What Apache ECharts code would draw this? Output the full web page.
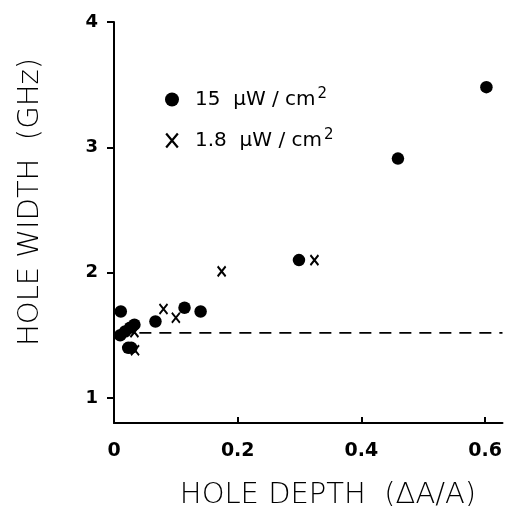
<!DOCTYPE html>
<html><head><meta charset="utf-8">
<script src="https://cdn.jsdelivr.net/npm/echarts@6/dist/echarts.min.js"></script>
<style>html,body{margin:0;padding:0;background:#fff}#c{width:505px;height:506px}</style>
</head><body><div id="c"></div>
<script>
// Data
const highPowerDots = [
  [0.011, 1.69], [0.010, 1.50], [0.018, 1.53], [0.026, 1.56], [0.033, 1.585],
  [0.023, 1.40], [0.028, 1.40], [0.067, 1.61], [0.114, 1.72], [0.140, 1.69],
  [0.299, 2.10], [0.459, 2.91], [0.602, 3.48]
];
const lowPowerX = [
  [0.080, 1.71], [0.100, 1.64], [0.174, 2.01], [0.324, 2.10], [0.033, 1.525], [0.034, 1.38]
];
const baseline = [[0.041, 1.52], [0.628, 1.52]];
const xTicks = [0, 0.2, 0.4, 0.6];
const yTicks = [1, 2, 3, 4];
const seriesNames = ['15', '1.8'];
const xTitle = 'HOLE DEPTH  (ΔA/A)';
const yTitle = 'HOLE WIDTH  (GHz)';

const XPATH = 'path://M0,0L10,12M10,0L0,12';
const FONT = 'DejaVu Sans';

const chart = echarts.init(document.getElementById('c'));
chart.setOption({
  animation: false,
  backgroundColor: '#fff',
  grid: { left: 114, right: 0, top: 22, bottom: 83, containLabel: false },
  xAxis: {
    type: 'value', min: 0, max: 0.628,
    splitLine: { show: false },
    axisLine: { show: true, lineStyle: { color: '#000', width: 2 } },
    axisTick: { show: true, inside: true, length: 6, customValues: xTicks, lineStyle: { color: '#000', width: 2 } },
    axisLabel: { customValues: xTicks, margin: 19, color: '#000', fontFamily: FONT, fontSize: 19, fontWeight: 'bold',
      formatter: v => v === 0 ? '0' : v.toFixed(1) }
  },
  yAxis: {
    type: 'value', min: 0.8, max: 4,
    splitLine: { show: false },
    axisLine: { show: true, lineStyle: { color: '#000', width: 2 } },
    axisTick: { show: true, inside: false, length: 7, customValues: yTicks, lineStyle: { color: '#000', width: 2 } },
    axisLabel: { customValues: yTicks, margin: 16, color: '#000', fontFamily: FONT, fontSize: 18, fontWeight: 'bold',
      formatter: v => String(v) }
  },
  graphic: [
    { type: 'text', x: 328, y: 495, silent: true,
      style: { text: xTitle, align: 'center', verticalAlign: 'middle',
        font: '200 29px "DejaVu Sans"', fill: '#000' } },
    { type: 'text', x: 30, y: 202, rotation: Math.PI / 2, silent: true,
      style: { text: yTitle, align: 'center', verticalAlign: 'middle',
        font: '200 29px "DejaVu Sans"', fill: '#000' } }
  ],
  legend: {
    orient: 'vertical', left: 160, top: 82, itemWidth: 14, itemHeight: 14, itemGap: 16,
    selectedMode: false,
    data: [
      { name: seriesNames[0], icon: 'circle', itemStyle: { color: '#000' } },
      { name: seriesNames[1], icon: XPATH, itemStyle: { color: 'transparent', borderColor: '#000', borderWidth: 2.2 } }
    ],
    formatter: n => '{a|' + n + '  μW / cm}{s|2}',
    textStyle: {
      rich: {
        a: { fontFamily: FONT, fontSize: 20, lineHeight: 24, color: '#000', padding: [0, 0, 0, 11] },
        s: { fontFamily: FONT, fontSize: 15, lineHeight: 14, color: '#000', padding: [0, 0, 10, 2] }
      }
    }
  },
  series: [
    {
      name: seriesNames[0], type: 'scatter', data: highPowerDots,
      symbol: 'circle', symbolSize: 12.5, itemStyle: { color: '#000', opacity: 1 }, z: 3
    },
    {
      name: seriesNames[1], type: 'scatter', data: lowPowerX,
      symbol: XPATH, symbolSize: [8, 10],
      itemStyle: { color: 'transparent', borderColor: '#000', borderWidth: 2, opacity: 1 }, z: 3
    },
    {
      name: 'baseline', type: 'line', data: baseline, symbol: 'none',
      lineStyle: { color: '#000', width: 1.8, type: [12, 8] }, z: 2, silent: true
    }
  ]
});
</script></body></html>
